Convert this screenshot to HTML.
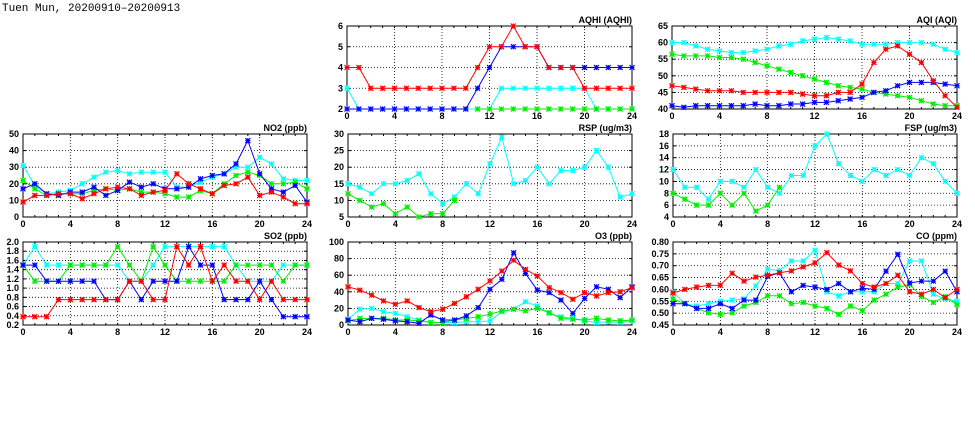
<!DOCTYPE html>
<html><head><meta charset="utf-8"><style>
body{margin:0;background:#fff;width:975px;height:447px;overflow:hidden}
svg{display:block}
text{font-family:"Liberation Sans",sans-serif;font-weight:bold;font-size:9px;fill:#000}
</style></head><body>
<svg id="chart" width="975" height="447" viewBox="0 0 975 447" xmlns="http://www.w3.org/2000/svg">
<text x="2" y="11" style="font-family:'Liberation Mono',monospace;font-weight:normal;font-size:11px">Tuen Mun, 20200910–20200913</text>
</svg>
<script>
const hours=[0,1,2,3,4,5,6,7,8,9,10,11,12,13,14,15,16,17,18,19,20,21,22,23,24];
const xTicks=[0,4,8,12,16,20,24];
const _=null;
// AQHI
const aqhiRed=[4,4,3,3,3,3,3,3,3,3,3,4,5,5,6,5,5,4,4,4,3,3,3,3,3];
const aqhiBlue=[2,2,2,2,2,2,2,2,2,2,2,3,4,5,5,5,5,4,4,4,4,4,4,4,4];
const aqhiCyan=[3,2,2,2,2,2,2,2,2,2,2,2,2,3,3,3,3,3,3,3,3,2,2,2,2];
const aqhiGreen=[_,_,_,_,_,_,_,_,_,_,_,2,2,2,2,2,2,2,2,2,2,2,2,2,2];
const aqhiTicks=[2,3,4,5,6];
// AQI
const aqiCyan=[60,60,59,58,57.5,57,57,57.5,58,59,59.5,60.5,61,61.5,61,60.5,59.5,59.5,59.5,60,60,60,59.5,58,57];
const aqiGreen=[56.5,56,56,56,55.5,55.5,55,54,53,52,51,50,49,48,47,46.5,46,45,44.5,44,43.5,42.5,41.5,41,41];
const aqiRed=[47,46.5,46,45.5,45.5,45.5,45,45,45,45,45,44.5,44,44,45,45,47.5,54,58,59,56.5,54,48.5,44,40.5];
const aqiBlue=[41,40.5,41,41,41,41,41,41.5,41,41,41.5,41.5,42,42,42.5,43,43.5,45,45.5,47,48,48,48,47.5,47];
const aqiTicks=[40,45,50,55,60,65];
// NO2
const no2Cyan=[31,19,14,15,16,20,24,27,28,26,27,27,27,18,18,21,24,26,30,30,36,32,23,22,22];
const no2Green=[22,17,13,14,14,14,16,17,16,17,15,15,14,12,12,16,14,20,25,27,25,20,20,21,17];
const no2Blue=[17,20,14,13,15,15,18,13,16,21,18,20,17,17,18,23,25,26,32,46,26,17,15,19,9];
const no2Red=[9,13,13,14,14,11,14,17,18,17,13,15,16,26,20,17,14,19,20,24,13,15,12,8,8];
const no2Ticks=[0,10,20,30,40,50];
// RSP
const rspCyan=[15,14,12,15,15,16,18,12,9,11,15,12,21,29,15,16,20,15,19,19,20,25,20,11,12];
const rspGreen=[12,10,8,9,6,8,5,6,6,10,_,_,_,_,_,_,_,_,_,_,_,_,_,_,_];
const rspTicks=[5,10,15,20,25,30];
// FSP
const fspCyan=[12,9,9,7,10,10,9,12,9,8,11,11,16,18,13,11,10,12,11,12,11,14,13,10,8];
const fspGreen=[8,7,6,6,8,6,8,5,6,9,_,_,_,_,_,_,_,_,_,_,_,_,_,_,_];
const fspTicks=[4,6,8,10,12,14,16,18];
// SO2
const so2Cyan=[1.5,1.9,1.5,1.5,1.5,1.5,1.5,1.5,1.5,1.15,1.15,1.5,1.9,1.9,1.9,1.9,1.9,1.9,1.5,1.15,1.15,1.15,1.5,1.5,1.5];
const so2Green=[1.5,1.15,1.15,1.15,1.5,1.5,1.5,1.5,1.9,1.5,1.15,1.9,1.5,1.15,1.15,1.15,1.15,1.15,1.5,1.5,1.5,1.5,1.15,1.5,1.5];
const so2Blue=[1.5,1.5,1.15,1.15,1.15,1.15,1.15,0.75,0.75,1.15,0.75,1.15,1.15,1.15,1.9,1.5,1.5,0.75,0.75,0.75,1.15,0.75,0.38,0.38,0.38];
const so2Red=[0.38,0.38,0.38,0.75,0.75,0.75,0.75,0.75,0.75,1.15,1.15,0.75,0.75,1.9,1.5,1.9,1.15,1.5,1.15,1.15,0.75,1.15,0.75,0.75,0.75];
const so2Ticks=[0.2,0.4,0.6,0.8,1.0,1.2,1.4,1.6,1.8,2.0];
// O3
const o3Cyan=[7,19,20,16,14,10,6,3,3,3,4,4,5,16,19,28,23,14,10,8,5,3,4,3,5];
const o3Green=[5,8,8,8,6,6,5,3,3,6,8,10,13,17,19,17,20,15,8,7,6,8,6,5,6];
const o3Blue=[6,4,8,7,5,4,2,12,6,6,11,21,43,55,87,62,42,39,30,14,32,46,43,33,46];
const o3Red=[46,42,36,29,25,29,21,16,19,26,34,43,53,65,78,67,59,45,39,31,39,35,39,40,45];
const o3Ticks=[0,20,40,60,80,100];
// CO
const coCyan=[0.59,0.54,0.53,0.54,0.55,0.555,0.56,0.615,0.685,0.68,0.72,0.72,0.765,0.59,0.573,0.59,0.59,0.59,0.625,0.625,0.72,0.72,0.58,0.56,0.55];
const coGreen=[0.56,0.54,0.52,0.502,0.495,0.502,0.53,0.545,0.573,0.573,0.54,0.545,0.53,0.52,0.495,0.53,0.51,0.555,0.58,0.61,0.62,0.57,0.545,0.57,0.535];
const coBlue=[0.54,0.54,0.52,0.52,0.54,0.52,0.555,0.555,0.655,0.67,0.59,0.617,0.61,0.60,0.625,0.59,0.605,0.60,0.677,0.748,0.627,0.635,0.635,0.677,0.59];
const coRed=[0.585,0.60,0.61,0.617,0.618,0.668,0.635,0.652,0.66,0.67,0.678,0.695,0.712,0.755,0.703,0.678,0.625,0.61,0.625,0.66,0.59,0.58,0.60,0.565,0.60];
const coTicks=[0.45,0.50,0.55,0.60,0.65,0.70,0.75,0.80];

const svg=document.getElementById('chart');
const NS='http://www.w3.org/2000/svg';
function mk(tag,attrs,parent){const e=document.createElementNS(NS,tag);for(const k in attrs)e.setAttribute(k,attrs[k]);(parent||svg).appendChild(e);return e;}
const C={cyan:'#00ffff',green:'#00ee00',blue:'#0000ff',red:'#ff0000'};

function panel(key,title,x0,x1,y0,y1,ticks,dec,series){
  const g=mk('g',{});
  
  
  const ymin=ticks[0],ymax=ticks[ticks.length-1];
  const xs=h=>x0+(h/24)*(x1-x0);
  const ys=v=>y1-(v-ymin)/(ymax-ymin)*(y1-y0);
  ticks.forEach((t,i)=>{
    if(i>0&&i<ticks.length-1){const l=mk('line',{x1:x0,x2:x1,y1:ys(t),y2:ys(t),stroke:'#000','stroke-width':0.8,'stroke-dasharray':'1,2'},g);
    }
    const tx=mk('text',{x:x0-4,y:ys(t)+3,'text-anchor':'end'},g);tx.textContent=t.toFixed(dec);
    
    mk('line',{x1:x0,x2:x0+3,y1:ys(t),y2:ys(t),stroke:'#000'},g);
    mk('line',{x1:x1,x2:x1-3,y1:ys(t),y2:ys(t),stroke:'#000'},g);
  });
  xTicks.forEach((t,i)=>{
    if(i>0&&i<xTicks.length-1){const l=mk('line',{x1:xs(t),x2:xs(t),y1:y0,y2:y1,stroke:'#000','stroke-width':0.8,'stroke-dasharray':'1,2'},g);
    }
    const tx=mk('text',{x:xs(t),y:y1+10,'text-anchor':'middle'},g);tx.textContent=t;
    
  });
  hours.forEach(h=>{mk('line',{x1:xs(h),x2:xs(h),y1:y1,y2:y1-2,stroke:'#000'},g);mk('line',{x1:xs(h),x2:xs(h),y1:y0,y2:y0+2,stroke:'#000'},g);});
  const fr=mk('rect',{x:x0,y:y0,width:x1-x0,height:y1-y0,fill:'none',stroke:'#000','stroke-width':1},g);
  
  const tt=mk('text',{x:x1,y:y0-3,'text-anchor':'end'},g);tt.textContent=title;
  
  series.forEach(([name,col,vals])=>{
    const sg=mk('g',{},g);
    
    
    let d='',pen=false;
    vals.forEach((v,i)=>{if(v==null){pen=false;return;}d+=(pen?'L':'M')+xs(hours[i]).toFixed(1)+','+ys(v).toFixed(1);pen=true;});
    const p=mk('path',{d:d,fill:'none',stroke:C[col],'stroke-width':1},sg);
    
    vals.forEach((v,i)=>{if(v==null)return;const cx=xs(hours[i]),cy=ys(v),r=2.5;
      const m=mk('path',{d:`M${cx-r},${cy}H${cx+r}M${cx},${cy-r}V${cy+r}M${cx-r},${cy-r}L${cx+r},${cy+r}M${cx-r},${cy+r}L${cx+r},${cy-r}`,stroke:C[col],'stroke-width':1.2},sg);
      });
  });
}
panel('aqhi','AQHI (AQHI)',347,632,26,109,aqhiTicks,0,[['cyan','cyan',aqhiCyan],['green','green',aqhiGreen],['blue','blue',aqhiBlue],['red','red',aqhiRed]]);
panel('aqi','AQI (AQI)',672,957,26,109,aqiTicks,0,[['cyan','cyan',aqiCyan],['green','green',aqiGreen],['blue','blue',aqiBlue],['red','red',aqiRed]]);
panel('no2','NO2 (ppb)',23,307,134,217,no2Ticks,0,[['cyan','cyan',no2Cyan],['green','green',no2Green],['blue','blue',no2Blue],['red','red',no2Red]]);
panel('rsp','RSP (ug/m3)',348,632,134,217,rspTicks,0,[['cyan','cyan',rspCyan],['green','green',rspGreen]]);
panel('fsp','FSP (ug/m3)',673,957,134,217,fspTicks,0,[['cyan','cyan',fspCyan],['green','green',fspGreen]]);
panel('so2','SO2 (ppb)',23,307,242,325,so2Ticks,1,[['cyan','cyan',so2Cyan],['green','green',so2Green],['blue','blue',so2Blue],['red','red',so2Red]]);
panel('o3','O3 (ppb)',348,632,242,325,o3Ticks,0,[['cyan','cyan',o3Cyan],['green','green',o3Green],['blue','blue',o3Blue],['red','red',o3Red]]);
panel('co','CO (ppm)',673,957,242,325,coTicks,2,[['cyan','cyan',coCyan],['green','green',coGreen],['blue','blue',coBlue],['red','red',coRed]]);
</script>
</body></html>
